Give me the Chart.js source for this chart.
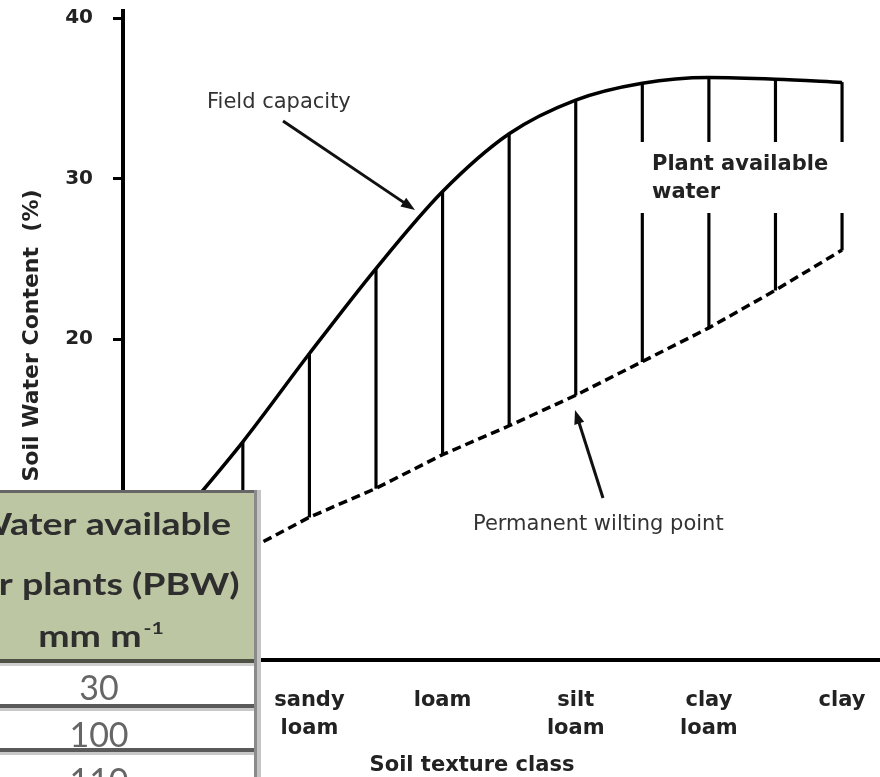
<!DOCTYPE html>
<html>
<head>
<meta charset="utf-8">
<title>Soil water content by texture class</title>
<script src="https://cdn.jsdelivr.net/npm/chart.js@4.4.1/dist/chart.umd.min.js"></script>
<style>
  html, body { margin: 0; padding: 0; background: #fff; }
  .chart { width: 880px; height: 777px; }
</style>
</head>
<body>
<div class="chart"><canvas id="soilChart" width="880" height="777"></canvas></div>
<script>
// positions along the texture axis, coarse -> fine
const texturePositions = [0, 1, 2, 3, 4, 5, 6, 7, 8, 9, 10];
const fieldCapacity = [8.6, 13.6, 19.1, 24.4, 29.2, 32.8, 34.9, 35.95, 36.3, 36.2, 36.0];
const wiltingPoint = [4.6, 6.7, 8.9, 10.7, 12.8, 14.6, 16.5, 18.6, 20.7, 23.05, 25.55];
// hatch lines between the two curves
const hatchPositions = [1, 2, 3, 4, 5, 6, 7, 8, 9, 10];

const textureClasses = [['sandy', 'loam'], 'loam', ['silt', 'loam'], ['clay', 'loam'], 'clay'];
const classPositions = [2, 4, 6, 8, 10];
const yTicks = [0, 10, 20, 30, 40];

// pasted table (PBW)
const pbwHeader = ['Water available', 'for plants (PBW)', 'mm m'];
const pbwValues = [30, 100, 110];

const curvePoints = (values) => texturePositions.map((x, i) => ({ x: x, y: values[i] }));
const hatchBars = hatchPositions.map((x) => {
  const i = texturePositions.indexOf(x);
  return { x: x, y: [wiltingPoint[i], fieldCapacity[i]] };
});

function drawArrow(ctx, x1, y1, x2, y2) {
  const a = Math.atan2(y2 - y1, x2 - x1);
  const head = 15;
  ctx.beginPath();
  ctx.moveTo(x1, y1);
  ctx.lineTo(x2 - Math.cos(a) * head * 0.7, y2 - Math.sin(a) * head * 0.7);
  ctx.stroke();
  ctx.beginPath();
  ctx.moveTo(x2, y2);
  ctx.lineTo(x2 - head * Math.cos(a - 0.35), y2 - head * Math.sin(a - 0.35));
  ctx.lineTo(x2 - head * Math.cos(a + 0.35), y2 - head * Math.sin(a + 0.35));
  ctx.closePath();
  ctx.fill();
}

function stretchedText(ctx, text, x, y, sx) {
  ctx.save();
  ctx.translate(x, y);
  ctx.scale(sx, 1);
  ctx.fillText(text, 0, 0);
  ctx.restore();
}

const annotationsPlugin = {
  id: 'annotations',
  afterDatasetsDraw(chart) {
    const ctx = chart.ctx;
    ctx.save();
    // gap in the hatching for the label
    ctx.fillStyle = '#fff';
    ctx.fillRect(637, 142, 212, 71);

    ctx.textBaseline = 'middle';
    ctx.textAlign = 'left';
    ctx.fillStyle = '#222';
    ctx.font = 'bold 21px "DejaVu Sans"';
    ctx.fillText('Plant available', 652, 165);
    ctx.fillText('water', 652, 193);

    ctx.fillStyle = '#333';
    ctx.font = '21px "DejaVu Sans"';
    ctx.fillText('Field capacity', 207, 103);
    ctx.fillText('Permanent wilting point', 473, 525);

    ctx.strokeStyle = '#111';
    ctx.fillStyle = '#111';
    ctx.lineWidth = 3;
    drawArrow(ctx, 283, 121, 415, 210);
    drawArrow(ctx, 603, 498, 575, 410);

    ctx.fillStyle = '#222';
    ctx.textAlign = 'center';
    ctx.font = 'bold 21px "DejaVu Sans"';
    ctx.fillText('Soil texture class', 472, 766);
    ctx.restore();
  }
};

const tablePlugin = {
  id: 'pbwTable',
  afterDraw(chart) {
    const ctx = chart.ctx;
    const sx = 1.25;
    ctx.save();
    ctx.fillStyle = '#bcc6a2';
    ctx.fillRect(0, 490, 256, 172);
    ctx.fillStyle = '#fff';
    ctx.fillRect(0, 662, 261, 115);
    ctx.fillStyle = '#666';
    ctx.fillRect(0, 490, 256, 3);
    ctx.fillStyle = '#4d5245';
    ctx.fillRect(0, 659, 256, 4);
    ctx.fillStyle = '#cfcfcf';
    ctx.fillRect(0, 663, 256, 3);
    [704, 748].forEach((y) => {
      ctx.fillStyle = '#5a5a5a';
      ctx.fillRect(0, y, 256, 4);
      ctx.fillStyle = '#c8c8c8';
      ctx.fillRect(0, y + 4, 256, 3);
    });
    ctx.fillStyle = '#8a8a8a';
    ctx.fillRect(254, 490, 3, 287);
    ctx.fillStyle = '#c4c4c4';
    ctx.fillRect(257, 490, 4, 287);

    // header text
    ctx.fillStyle = '#2e2e2e';
    ctx.textBaseline = 'alphabetic';
    ctx.textAlign = 'center';
    ctx.font = 'bold 30px Lato';
    stretchedText(ctx, pbwHeader[0], 102, 535, sx);
    stretchedText(ctx, pbwHeader[1], 102, 595, sx);
    const w1 = ctx.measureText(pbwHeader[2]).width * sx;
    ctx.font = 'bold 17px Lato';
    const w2 = ctx.measureText('-1').width * sx;
    const start = 100 - (w1 + w2) / 2;
    ctx.textAlign = 'left';
    ctx.font = 'bold 30px Lato';
    stretchedText(ctx, pbwHeader[2], start, 647, sx);
    ctx.font = 'bold 17px Lato';
    stretchedText(ctx, '-1', start + w1 + 2, 634, sx);

    // values
    ctx.fillStyle = '#666';
    ctx.textAlign = 'center';
    ctx.font = '34px Lato';
    [700, 747, 793].forEach((y, i) => {
      ctx.fillText(String(pbwValues[i]), 99, y);
    });
    ctx.restore();
  }
};

const chartCtx = document.getElementById('soilChart').getContext('2d');

new Chart(chartCtx, {
  type: 'bar',
  data: {
    datasets: [
      {
        type: 'line',
        label: 'Field capacity',
        data: curvePoints(fieldCapacity),
        borderColor: '#000',
        borderWidth: 3.5,
        pointRadius: 0,
        cubicInterpolationMode: 'monotone',
        fill: false
      },
      {
        type: 'line',
        label: 'Permanent wilting point',
        data: curvePoints(wiltingPoint),
        borderColor: '#000',
        borderWidth: 3.5,
        borderDash: [9, 5],
        pointRadius: 0,
        tension: 0,
        fill: false
      },
      {
        type: 'bar',
        label: 'Plant available water',
        data: hatchBars,
        backgroundColor: '#000',
        barThickness: 2.5,
        grouped: false
      }
    ]
  },
  options: {
    responsive: false,
    animation: false,
    layout: { padding: { top: 11, right: 0, bottom: 0, left: 0 } },
    plugins: {
      legend: { display: false },
      tooltip: { enabled: false }
    },
    scales: {
      x: {
        type: 'linear',
        min: -0.8,
        max: 10.57,
        offset: false,
        grid: { display: false, drawTicks: false, offset: false },
        border: { display: true, color: '#000', width: 4 },
        afterBuildTicks: (scale) => {
          scale.ticks = classPositions.map((v) => ({ value: v }));
        },
        afterFit: (scale) => {
          scale.height = 117;
          scale.paddingLeft = 0;
          scale.paddingRight = 0;
        },
        ticks: {
          autoSkip: false,
          maxRotation: 0,
          padding: 27,
          color: '#222',
          font: { family: 'DejaVu Sans', size: 21, weight: 'bold', lineHeight: 1.333 },
          callback: (value) => textureClasses[classPositions.indexOf(value)]
        }
      },
      y: {
        min: 0,
        max: 40.45,
        grid: { display: true, drawOnChartArea: false, drawTicks: true, tickLength: 10, lineWidth: 3, color: '#000' },
        border: { display: true, color: '#000', width: 4 },
        afterBuildTicks: (scale) => {
          scale.ticks = yTicks.map((v) => ({ value: v }));
        },
        afterFit: (scale) => {
          scale.width = 123;
          scale.paddingTop = 0;
          scale.paddingBottom = 0;
        },
        ticks: {
          padding: 20,
          color: '#222',
          font: { family: 'DejaVu Sans', size: 20, weight: 'bold' }
        },
        title: {
          display: true,
          text: 'Soil Water Content  (%)',
          color: '#222',
          font: { family: 'DejaVu Sans', size: 22, weight: 'bold' },
          padding: { top: 19, bottom: 0 }
        }
      }
    }
  },
  plugins: [annotationsPlugin, tablePlugin]
});
</script>
</body>
</html>
